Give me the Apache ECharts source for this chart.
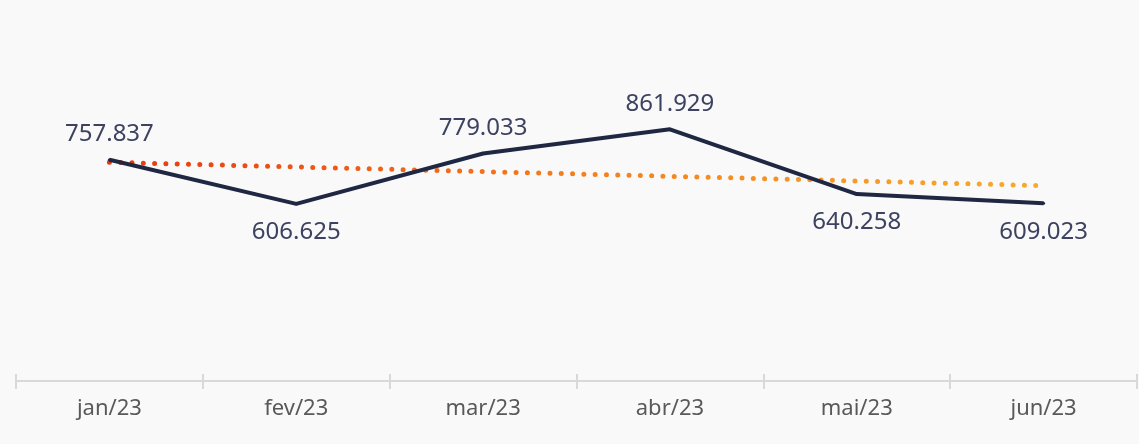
<!DOCTYPE html>
<html>
<head>
<meta charset="utf-8">
<script src="https://cdn.jsdelivr.net/npm/echarts@6/dist/echarts.min.js"></script>
<style>
  html, body { margin: 0; padding: 0; background: #f9f9f9; }
  #chart { width: 1139px; height: 444px; }
</style>
</head>
<body>
<div id="chart"></div>
<script>
// meses
const months = ['jan/23', 'fev/23', 'mar/23', 'abr/23', 'mai/23', 'jun/23']
// valores mensais
const values = [757.837, 606.625, 779.033, 861.929, 640.258, 609.023]
// linha de tendência
const trend = [749, 733, 717, 701, 685, 669]
// posição dos rótulos
const labelPos = ['top', 'bottom', 'top', 'top', 'bottom', 'bottom']

const fmt = v => v.toFixed(3)

const chart = echarts.init(document.getElementById('chart'))

const option = {
  backgroundColor: '#f9f9f9',
  animation: false,
  grid: { left: 16, right: 2, top: 89, bottom: 63 },
  xAxis: [
    {
      type: 'category',
      data: months,
      boundaryGap: true,
      axisLine: { show: true, lineStyle: { color: '#d9d9d9', width: 2 } },
      axisTick: { show: true, alignWithLabel: false, length: 8, lineStyle: { color: '#d9d9d9', width: 2 } },
      axisLabel: {
        color: '#595959',
        fontSize: 22,
        fontFamily: 'Noto Sans',
        margin: 17
      }
    },
    {
      type: 'category',
      data: months,
      position: 'bottom',
      offset: 0,
      boundaryGap: true,
      axisLine: { show: false },
      axisTick: { show: true, inside: true, length: 7, lineStyle: { color: '#d9d9d9', width: 2 } },
      axisLabel: { show: false }
    }
  ],
  yAxis: {
    type: 'value',
    min: 0,
    max: 1000,
    show: false,
    splitLine: { show: false }
  },
  series: [
    {
      name: 'Tendência',
      type: 'line',
      data: trend,
      symbol: 'none',
      z: 1,
      lineStyle: {
        width: 5,
        type: [0, 11.3],
        cap: 'round',
        color: new echarts.graphic.LinearGradient(0, 0, 1, 0, [
          { offset: 0, color: '#e8380f' },
          { offset: 0.5, color: '#f47f1e' },
          { offset: 1, color: '#f8ab2c' }
        ])
      }
    },
    {
      name: 'Valor',
      type: 'line',
      z: 2,
      data: values.map((v, i) => ({
        value: v,
        label: {
          position: labelPos[i],
          distance: labelPos[i] === 'top' ? 12 : 15
        }
      })),
      symbol: 'circle',
      symbolSize: 3,
      showSymbol: true,
      itemStyle: { color: '#1f2742' },
      lineStyle: { color: '#1f2742', width: 4, join: 'round' },
      label: {
        show: true,
        formatter: p => fmt(p.value),
        color: '#3c4260',
        fontSize: 24,
        fontFamily: 'Noto Sans'
      }
    }
  ]
}

chart.setOption(option)
</script>
</body>
</html>
